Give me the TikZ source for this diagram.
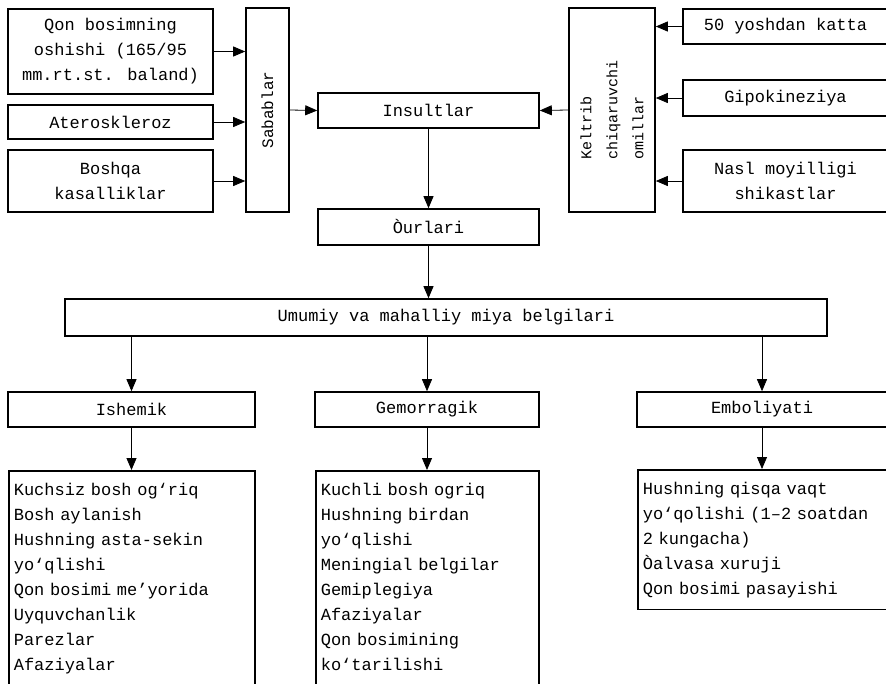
\documentclass[tikz,border=0pt]{standalone}
\usepackage{fontspec}
\setmainfont{Liberation Mono}
\usepackage{tikz}
\usetikzlibrary{arrows.meta}
\usetikzlibrary{positioning}
\tikzstyle{box} = [rectangle, draw=black, line width=1.6pt, align=center, font=\fontsize{17}{25}\selectfont]
\tikzstyle{sidebox} = [box, rotate=90]
\tikzstyle{listbox} = [box, align=left, anchor=north west, inner xsep=5pt, inner ysep=12pt]
\tikzstyle{arrow} = [line width=0.8pt, -{Triangle[length=12pt,width=10pt]}]
\newcommand{\listtail}{\rule[-20pt]{0pt}{20pt}}

\begin{document}
\begin{tikzpicture}[x=1pt, y=-1pt]
    \useasboundingbox (0,0) rectangle (886,683);
    \clip (0,0) rectangle (886,683);

    \node (cause1) [box, minimum width=205pt, minimum height=85pt] at (110.5,51.5) {Qon bosimning\\oshishi (165/95\\mm.rt.st. baland)};
    \node (cause2) [box, minimum width=205pt, minimum height=34pt] at (110.5,122) {Ateroskleroz};
    \node (cause3) [box, minimum width=205pt, minimum height=62pt] at (110.5,181) {Boshqa\\kasalliklar};
    \node (causes) [sidebox, minimum width=204pt, minimum height=43pt, font=\fontsize{16}{25}\selectfont] at (267.5,110) {Sabablar};

    \node (stroke) [box, minimum width=221pt, minimum height=35pt] at (428.5,110.5) {Insultlar};
    \node (factors) [sidebox, align=left, minimum width=204pt, minimum height=86pt, font=\fontsize{15}{26}\selectfont] at (612,110) {Keltrib\\chiqaruvchi\\omillar};
    \node (factor1) [box, minimum width=205pt, minimum height=35pt] at (785.5,26.5) {50 yoshdan katta};
    \node (factor2) [box, minimum width=205pt, minimum height=36pt] at (785.5,98) {Gipokineziya};
    \node (factor3) [box, minimum width=205pt, minimum height=62pt] at (785.5,181) {Nasl moyilligi\\shikastlar};

    \node (types) [box, minimum width=221pt, minimum height=36pt] at (428.5,227) {Òurlari};
    \node (signs) [box, minimum width=762pt, minimum height=37pt] at (446,317.5) {Umumiy va mahalliy miya belgilari};

    \node (ishem) [box, minimum width=247pt, minimum height=35pt] at (131.5,409.5) {Ishemik};
    \node (gemor) [box, minimum width=224pt, minimum height=35pt] at (427,409.5) {Gemorragik};
    \node (embol) [box, minimum width=250pt, minimum height=35pt] at (762,409.5) {Emboliyati};

    \node (ishemlist) [listbox, text width=236pt] at (8,470) {Kuchsiz bosh og‘riq\\Bosh aylanish\\Hushning asta-sekin\\yo‘qlishi\\Qon bosimi me’yorida\\Uyquvchanlik\\Parezlar\\Afaziyalar\listtail};
    \node (gemorlist) [listbox, text width=213pt] at (315,470) {Kuchli bosh ogriq\\Hushning birdan\\yo‘qlishi\\Meningial belgilar\\Gemiplegiya\\Afaziyalar\\Qon bosimining\\ko‘tarilishi\listtail};
    \node (embollist) [listbox, text width=240pt] at (637,469) {Hushning qisqa vaqt\\yo‘qolishi (1–2 soatdan\\2 kungacha)\\Òalvasa xuruji\\Qon bosimi pasayishi};

    \draw [arrow] (cause1.east) -- (cause1.east -| causes.north);
    \draw [arrow] (cause2.east) -- (cause2.east -| causes.north);
    \draw [arrow] (cause3.east) -- (cause3.east -| causes.north);
    \draw [arrow] (causes.south) -- (stroke.west);

    \draw [arrow] (factor1.west) -- (factor1.west -| factors.south);
    \draw [arrow] (factor2.west) -- (factor2.west -| factors.south);
    \draw [arrow] (factor3.west) -- (factor3.west -| factors.south);
    \draw [arrow] (factors.north) -- (stroke.east);

    \draw [arrow] (stroke) -- (types);
    \draw [arrow] (types) -- (types |- signs.north);
    \draw [arrow] (ishem.north |- signs.south) -- (ishem.north);
    \draw [arrow] (gemor.north |- signs.south) -- (gemor.north);
    \draw [arrow] (embol.north |- signs.south) -- (embol.north);

    \draw [arrow] (ishem) -- (ishem |- ishemlist.north);
    \draw [arrow] (gemor) -- (gemor |- gemorlist.north);
    \draw [arrow] (embol) -- (embol |- embollist.north);

\end{tikzpicture}
\end{document}
